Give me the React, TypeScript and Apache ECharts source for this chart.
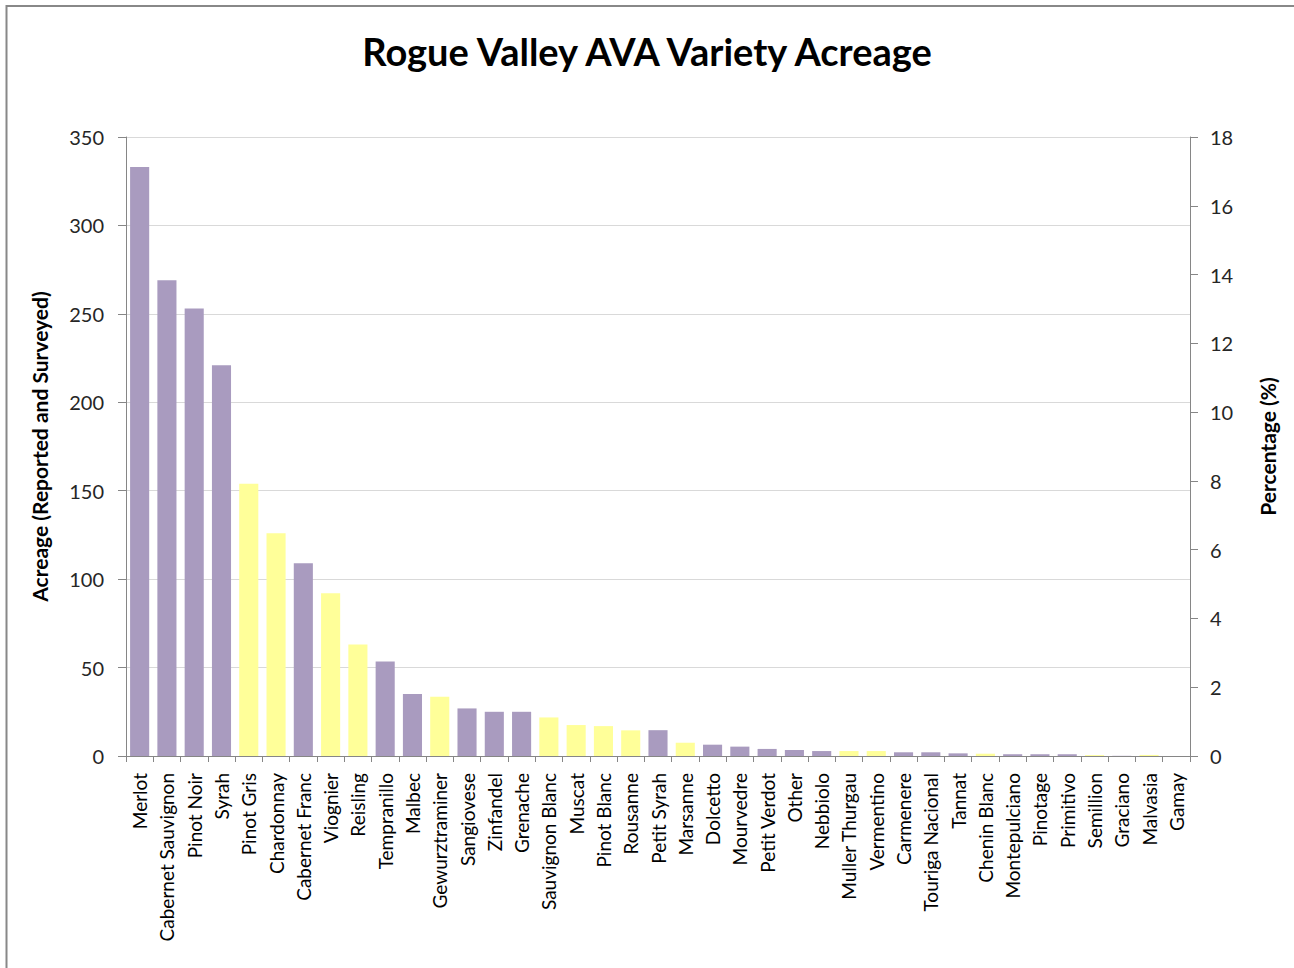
import React, { useEffect, useRef } from "react";
import * as echarts from "echarts";

const categories = [
  "Merlot", "Cabernet Sauvignon", "Pinot Noir", "Syrah", "Pinot Gris", "Chardonnay",
  "Cabernet Franc", "Viognier", "Reisling", "Tempranillo", "Malbec", "Gewurztraminer",
  "Sangiovese", "Zinfandel", "Grenache", "Sauvignon Blanc", "Muscat", "Pinot Blanc",
  "Rousanne", "Petit Syrah", "Marsanne", "Dolcetto", "Mourvedre", "Petit Verdot",
  "Other", "Nebbiolo", "Muller Thurgau", "Vermentino", "Carmenere", "Touriga Nacional",
  "Tannat", "Chenin Blanc", "Montepulciano", "Pinotage", "Primitivo", "Semillion",
  "Graciano", "Malvasia", "Gamay",
];

const acreage = [
  333, 269, 253, 221, 154, 126,
  109, 92, 63, 53.4, 35, 33.5,
  26.9, 25, 25, 21.8, 17.5, 16.9,
  14.5, 14.6, 7.5, 6.4, 5.3, 4,
  3.4, 2.8, 2.8, 2.8, 2.1, 2.1,
  1.5, 1.3, 1, 1, 1, 0.5,
  0.1, 0.6, 0,
];

// "red" or "white" variety
const grapeType = [
  "red", "red", "red", "red", "white", "white",
  "red", "white", "white", "red", "red", "white",
  "red", "red", "red", "white", "white", "white",
  "white", "red", "white", "red", "red", "red",
  "red", "red", "white", "white", "red", "red",
  "red", "white", "red", "red", "red", "white",
  "red", "white", "red",
];

const leftTicks = { min: 0, max: 350, interval: 50 };
const rightTicks = { min: 0, max: 18, interval: 2 };

const typeColors: Record<string, string> = { red: "#A99BBF", white: "#FFFF99" };

export default function App() {
  const ref = useRef<HTMLDivElement>(null);
  useEffect(() => {
    if (!ref.current) return;
    const chart = echarts.init(ref.current, undefined, { renderer: "svg" });
    const font = "Lato, 'Open Sans', sans-serif";
    const axisGray = "#868686";
    chart.setOption({
      animation: false,
      backgroundColor: "#ffffff",
      textStyle: { fontFamily: font },
      title: {
        text: "Rogue Valley AVA Variety Acreage",
        left: "center",
        top: 27,
        textStyle: { fontFamily: font, fontSize: 38, fontWeight: "bold", color: "#000" },
      },
      graphic: [
        {
          type: "rect",
          shape: { x: 6.5, y: 6, width: 1400, height: 1100 },
          style: { fill: "none", stroke: "#888888", lineWidth: 2 },
          silent: true,
        },
      ],
      grid: { left: 126, right: 104, top: 137, bottom: 212, containLabel: false },
      xAxis: {
        type: "category",
        data: categories,
        boundaryGap: true,
        axisLine: { lineStyle: { color: axisGray } },
        axisTick: { show: true, length: 6, alignWithLabel: false, lineStyle: { color: axisGray } },
        axisLabel: { rotate: 90, interval: 0, fontSize: 19, color: "#000", margin: 17, fontFamily: font },
      },
      yAxis: [
        {
          type: "value",
          ...leftTicks,
          name: "Acreage (Reported and Surveyed)",
          nameLocation: "middle",
          nameGap: 76,
          nameRotate: 90,
          nameTextStyle: { fontSize: 21, fontWeight: "bold", color: "#000", fontFamily: font },
          axisLine: { show: true, lineStyle: { color: axisGray } },
          axisTick: { show: true, length: 8, lineStyle: { color: axisGray } },
          axisLabel: { fontSize: 20, color: "#262626", margin: 22, fontFamily: font },
          splitLine: { show: true, lineStyle: { color: "#D9D9D9" } },
        },
        {
          type: "value",
          ...rightTicks,
          position: "right",
          name: "Percentage (%)",
          nameLocation: "middle",
          nameGap: 67,
          nameRotate: 90,
          nameTextStyle: { fontSize: 21, fontWeight: "bold", color: "#000", fontFamily: font },
          axisLine: { show: true, lineStyle: { color: axisGray } },
          axisTick: { show: true, length: 8, lineStyle: { color: axisGray } },
          axisLabel: { fontSize: 20, color: "#262626", margin: 20, fontFamily: font },
          splitLine: { show: false },
        },
      ],
      series: [
        {
          type: "bar",
          name: "Acreage",
          yAxisIndex: 0,
          barCategoryGap: "30%",
          data: acreage.map((v, i) => ({
            value: v,
            itemStyle: { color: typeColors[grapeType[i]] },
          })),
        },
      ],
    });
    return () => chart.dispose();
  }, []);
  return (
    <div
      ref={ref}
      style={{ position: "fixed", left: 0, top: 0, width: 1294, height: 968 }}
    />
  );
}
